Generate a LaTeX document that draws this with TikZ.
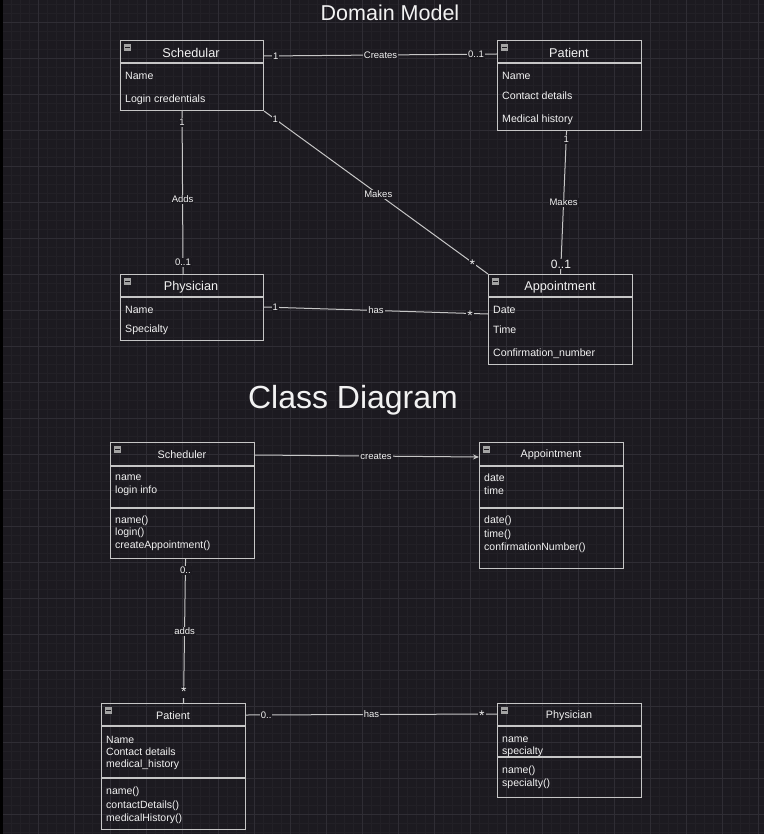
\documentclass[tikz,border=0pt]{standalone}
\usepackage{fontspec}
\setmainfont{Liberation Sans}
\setsansfont{Liberation Sans}
\usetikzlibrary{arrows.meta, positioning}

\definecolor{canvas}{HTML}{1C1A20}
\definecolor{gridminor}{HTML}{222026}
\definecolor{gridmajor}{HTML}{2F2D34}
\definecolor{edge}{HTML}{C6C6C6}
\definecolor{ink}{HTML}{F2F2F2}
\definecolor{iconfill}{HTML}{A3A3A3}

\tikzset{
  umlbox/.style={draw=edge, line width=1.1pt, anchor=north west, inner sep=0pt},
  sepline/.style={draw=edge, line width=1.1pt},
  boxicon/.style={fill=iconfill, minimum size=7pt, inner sep=0pt,
    path picture={\draw[canvas, line width=1pt]
      ([xshift=1.3pt]path picture bounding box.west) -- ([xshift=-1.3pt]path picture bounding box.east);}},
  headtext/.style={font=\fontsize{12.7}{14}\selectfont, inner sep=0pt, yshift=-1pt},
  attr/.style={anchor=west, font=\fontsize{10.6}{12}\selectfont, inner sep=0pt, yshift=-1pt},
  classhead/.style={font=\fontsize{10.8}{12}\selectfont, inner sep=0pt, yshift=-1pt},
  member/.style={anchor=west, font=\fontsize{10.5}{12}\selectfont, inner sep=0pt, yshift=-1pt},
  assoc/.style={draw=edge, line width=1pt},
  lbl/.style={fill=canvas, inner sep=1pt, font=\fontsize{9.5}{10}\selectfont},
  star/.style={fill=canvas, inner sep=1pt, font=\fontsize{14}{14}\selectfont, yshift=-2pt}
}

\begin{document}
\begin{tikzpicture}[x=1pt, y=-1pt, >={Stealth[length=6pt, width=5pt]}, text=ink, font=\sffamily]

\useasboundingbox (0,0) rectangle (764,834);

% --- Canvas and grid ---
\fill[canvas] (0,0) rectangle (764,834);
\foreach \gx in {2,11,...,764} \draw[gridminor, line width=0.6pt] (\gx,0) -- (\gx,834);
\foreach \gy in {-14,-5,...,834} \draw[gridminor, line width=0.6pt] (0,\gy) -- (764,\gy);
\foreach \gx in {2,38,...,764} \draw[gridmajor, line width=0.8pt] (\gx,0) -- (\gx,834);
\foreach \gy in {-14,22,...,834} \draw[gridmajor, line width=0.8pt] (0,\gy) -- (764,\gy);
\fill[black] (0,0) rectangle (2.5,834);

% --- Domain model ---
\node[font=\fontsize{21.5}{24}\selectfont, inner sep=0pt] (domaintitle) at (390,13) {Domain Model};

% Schedular
\node[umlbox, minimum width=143pt, minimum height=70pt] (sched) at (120,40) {};
\draw[sepline] ([yshift=-23pt]sched.north west) -- ([yshift=-23pt]sched.north east);
\node[boxicon] (sched-icon) at ([xshift=7.5pt, yshift=-7.5pt]sched.north west) {};
\node[headtext] (sched-head) at (191,52) {Schedular};
\node[attr] (sched-a1) at (125,75) {Name};
\node[attr] (sched-a2) at (125,99) {Login credentials};

% Patient
\node[umlbox, minimum width=144pt, minimum height=90pt] (pat) at (497,40) {};
\draw[sepline] ([yshift=-23pt]pat.north west) -- ([yshift=-23pt]pat.north east);
\node[boxicon] (pat-icon) at ([xshift=7.5pt, yshift=-7.5pt]pat.north west) {};
\node[headtext] (pat-head) at (569,52) {Patient};
\node[attr] (pat-a1) at (502,75) {Name};
\node[attr] (pat-a2) at (502,95) {Contact details};
\node[attr] (pat-a3) at (502,119) {Medical history};

% Physician
\node[umlbox, minimum width=143pt, minimum height=66pt] (phys) at (120,274) {};
\draw[sepline] ([yshift=-23pt]phys.north west) -- ([yshift=-23pt]phys.north east);
\node[boxicon] (phys-icon) at ([xshift=7.5pt, yshift=-7.5pt]phys.north west) {};
\node[headtext] (phys-head) at (191,286) {Physician};
\node[attr] (phys-a1) at (125,309) {Name};
\node[attr] (phys-a2) at (125,329) {Specialty};

% Appointment
\node[umlbox, minimum width=144pt, minimum height=90pt] (appt) at (488,274) {};
\draw[sepline] ([yshift=-23pt]appt.north west) -- ([yshift=-23pt]appt.north east);
\node[boxicon] (appt-icon) at ([xshift=7.5pt, yshift=-7.5pt]appt.north west) {};
\node[headtext] (appt-head) at (560,286) {Appointment};
\node[attr] (appt-a1) at (493,309) {Date};
\node[attr] (appt-a2) at (493,329) {Time};
\node[attr] (appt-a3) at (493,353) {Confirmation\_number};

% Domain associations
\draw[assoc] ([yshift=-16pt]sched.north east) -- ([yshift=-14pt]pat.north west)
  node[lbl, pos=.05] {1} node[lbl, pos=.5] {Creates} node[lbl, pos=.91] {0..1};
\draw[assoc] ([xshift=-10pt]sched.south) -- ([xshift=-9pt]phys.north)
  node[lbl, pos=.07] {1} node[lbl, pos=.54] {Adds} node[lbl, pos=.93] {0..1};
\draw[assoc] (sched.south east) -- (appt.north west)
  node[lbl, pos=.05] {1} node[lbl, pos=.51] {Makes} node[star, pos=.93] {*};
\draw[assoc] ([xshift=-3pt]pat.south) -- (appt.north)
  node[lbl, pos=.06] {1} node[lbl, pos=.5] {Makes}
  node[lbl, pos=.93, font=\fontsize{12}{13}\selectfont] {0..1};
\draw[assoc] ([yshift=-33pt]phys.north east) -- ([yshift=-40pt]appt.north west)
  node[lbl, pos=.05] {1} node[lbl, pos=.5] {has} node[star, pos=.92] {*};

% --- Class diagram ---
\node[font=\fontsize{32}{35}\selectfont, inner sep=0pt] (classtitle) at (353,400) {Class Diagram};

% Scheduler
\node[umlbox, minimum width=144pt, minimum height=116pt] (csched) at (110,442) {};
\draw[sepline] ([yshift=-24pt]csched.north west) -- ([yshift=-24pt]csched.north east);
\draw[sepline] ([yshift=-66pt]csched.north west) -- ([yshift=-66pt]csched.north east);
\node[boxicon] (csched-icon) at ([xshift=7.5pt, yshift=-7.5pt]csched.north west) {};
\node[classhead] (csched-head) at (182,454) {Scheduler};
\node[member] (csched-a1) at (115,477) {name};
\node[member] (csched-a2) at (115,490) {login info};
\node[member] (csched-m1) at (115,520) {name()};
\node[member] (csched-m2) at (115,532) {login()};
\node[member] (csched-m3) at (115,545) {createAppointment()};

% Appointment
\node[umlbox, minimum width=144pt, minimum height=126pt] (cappt) at (479,442) {};
\draw[sepline] ([yshift=-24pt]cappt.north west) -- ([yshift=-24pt]cappt.north east);
\draw[sepline] ([yshift=-66pt]cappt.north west) -- ([yshift=-66pt]cappt.north east);
\node[boxicon] (cappt-icon) at ([xshift=7.5pt, yshift=-7.5pt]cappt.north west) {};
\node[classhead] (cappt-head) at (551,454) {Appointment};
\node[member] (cappt-a1) at (484,477) {date};
\node[member] (cappt-a2) at (484,490) {time};
\node[member] (cappt-m1) at (484,520) {date()};
\node[member] (cappt-m2) at (484,534) {time()};
\node[member] (cappt-m3) at (484,547) {confirmationNumber()};

% Patient
\node[umlbox, minimum width=144pt, minimum height=126pt] (cpat) at (101,703) {};
\draw[sepline] ([yshift=-23pt]cpat.north west) -- ([yshift=-23pt]cpat.north east);
\draw[sepline] ([yshift=-75pt]cpat.north west) -- ([yshift=-75pt]cpat.north east);
\node[boxicon] (cpat-icon) at ([xshift=7.5pt, yshift=-7.5pt]cpat.north west) {};
\node[classhead] (cpat-head) at (173,715) {Patient};
\node[member] (cpat-a1) at (106,739) {Name};
\node[member] (cpat-a2) at (106,751) {Contact details};
\node[member] (cpat-a3) at (106,764) {medical\_history};
\node[member] (cpat-m1) at (106,791) {name()};
\node[member] (cpat-m2) at (106,805) {contactDetails()};
\node[member] (cpat-m3) at (106,818) {medicalHistory()};

% Physician
\node[umlbox, minimum width=144pt, minimum height=94pt] (cphys) at (497,703) {};
\draw[sepline] ([yshift=-23pt]cphys.north west) -- ([yshift=-23pt]cphys.north east);
\draw[sepline] ([yshift=-54pt]cphys.north west) -- ([yshift=-54pt]cphys.north east);
\node[boxicon] (cphys-icon) at ([xshift=7.5pt, yshift=-7.5pt]cphys.north west) {};
\node[classhead] (cphys-head) at (569,715) {Physician};
\node[member] (cphys-a1) at (502,739) {name};
\node[member] (cphys-a2) at (502,751) {specialty};
\node[member] (cphys-m1) at (502,770) {name()};
\node[member] (cphys-m2) at (502,783) {specialty()};

% Class associations
\draw[assoc, ->] ([yshift=-13pt]csched.north east) -- ([yshift=-15pt]cappt.north west)
  node[lbl, pos=.54] {creates};
\draw[assoc] ([xshift=3pt]csched.south) -- ([xshift=10pt]cpat.north)
  node[lbl, pos=.08] {0..} node[lbl, pos=.5] {adds} node[star, pos=.91] {*};
\draw[assoc] ([yshift=-12pt]cpat.north east) -- ([yshift=-11pt]cphys.north west)
  node[lbl, pos=.08] {0..} node[lbl, pos=.5] {has} node[star, pos=.94] {*};

\end{tikzpicture}
\end{document}
